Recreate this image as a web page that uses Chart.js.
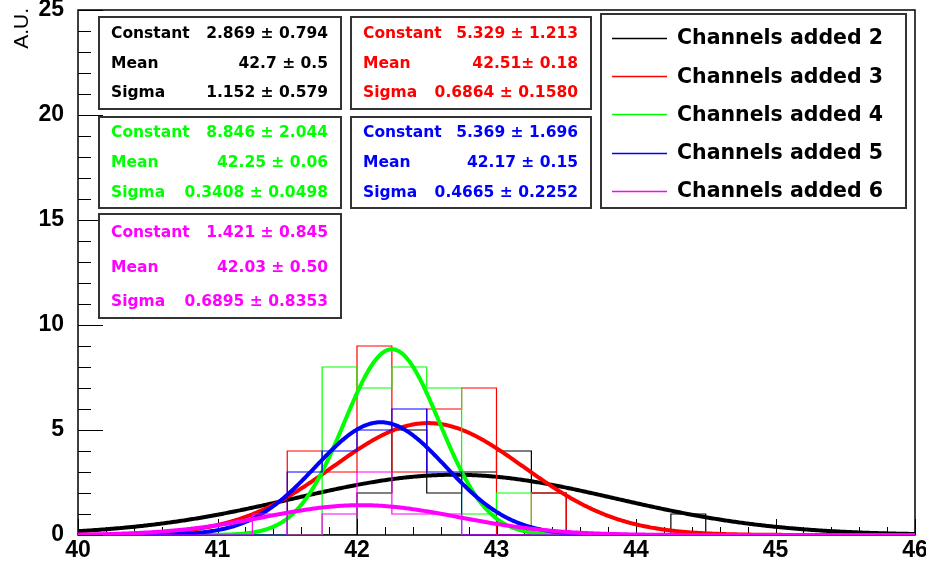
<!DOCTYPE html>
<html>
<head>
<meta charset="utf-8">
<script src="https://cdn.jsdelivr.net/npm/chart.js@4.4.1/dist/chart.umd.min.js"></script>
<style>
  html, body { margin: 0; padding: 0; background: #fff; }
  #wrap { width: 926px; height: 562px; }
</style>
</head>
<body>
<div id="wrap"><canvas id="c" width="926" height="562"></canvas></div>
<script>
// ---- data ----
const binLowEdges = [40.00, 40.25, 40.50, 40.75, 41.00, 41.25, 41.50, 41.75, 42.00, 42.25, 42.50, 42.75,
                     43.00, 43.25, 43.50, 43.75, 44.00, 44.25, 44.50, 44.75, 45.00, 45.25, 45.50, 45.75];
const xUpperEdge = 46;
const seriesNames = ['Channels added 2', 'Channels added 3', 'Channels added 4', 'Channels added 5', 'Channels added 6'];
const counts2 = [0,0,0,0,0,0,0,0,2,5,2,3,4,2,0,0,0,1,0,0,0,0,0,0];
const counts3 = [0,0,0,0,0,0,4,3,9,3,6,7,0,2,0,0,0,0,0,0,0,0,0,0];
const counts4 = [0,0,0,0,0,0,0,8,7,8,7,1,2,0,0,0,0,0,0,0,0,0,0,0];
const counts5 = [0,0,0,0,0,0,3,4,5,6,3,0,0,0,0,0,0,0,0,0,0,0,0,0];
const counts6 = [0,0,0,0,0,1,0,1,3,1,1,0,0,0,0,0,0,0,0,0,0,0,0,0];
const fitConstant = [2.869, 5.329, 8.846, 5.369, 1.421];
const fitMean     = [42.7, 42.51, 42.25, 42.17, 42.03];
const fitSigma    = [1.152, 0.6864, 0.3408, 0.4665, 0.6895];
const statLabels  = ['Constant', 'Mean', 'Sigma'];
const statConstantText = ['2.869 \u00b1 0.794', '5.329 \u00b1 1.213', '8.846 \u00b1 2.044', '5.369 \u00b1 1.696', '1.421 \u00b1 0.845'];
const statMeanText     = ['42.7 \u00b1 0.5', '42.51\u00b1 0.18', '42.25 \u00b1 0.06', '42.17 \u00b1 0.15', '42.03 \u00b1 0.50'];
const statSigmaText    = ['1.152 \u00b1 0.579', '0.6864 \u00b1 0.1580', '0.3408 \u00b1 0.0498', '0.4665 \u00b1 0.2252', '0.6895 \u00b1 0.8353'];
const xTickValues = [40, 41, 42, 43, 44, 45, 46];
const yTickValues = [0, 5, 10, 15, 20, 25];
const yTitle = 'A.U.';

// ---- styles ----
const colors = ['#000000', '#ff0000', '#00ff00', '#0000ff', '#ff00ff'];
const allCounts = [counts2, counts3, counts4, counts5, counts6];

function histPoints(c) {
  const pts = binLowEdges.map((x, i) => ({ x: x, y: c[i] }));
  pts.push({ x: xUpperEdge, y: c[c.length - 1] });
  return pts;
}
function fitPoints(k) {
  const pts = [];
  const n = 600;
  for (let i = 0; i <= n; i++) {
    const x = binLowEdges[0] + (xUpperEdge - binLowEdges[0]) * i / n;
    const d = (x - fitMean[k]) / fitSigma[k];
    pts.push({ x: x, y: fitConstant[k] * Math.exp(-0.5 * d * d) });
  }
  return pts;
}

const datasets = [];
let drawIdx = 0;
for (let k = 0; k < 5; k++) {
  datasets.push({
    label: seriesNames[k] + ' hist',
    data: histPoints(allCounts[k]),
    borderColor: colors[k],
    borderWidth: 1.2,
    stepped: true,
    pointRadius: 0,
    fill: false,
    order: 100 - (drawIdx++)
  });
  datasets.push({
    label: seriesNames[k] + ' fit',
    data: fitPoints(k),
    borderColor: colors[k],
    borderWidth: 4,
    pointRadius: 0,
    tension: 0,
    fill: false,
    order: 100 - (drawIdx++)
  });
}

const frameAndTicks = {
  id: 'frameAndTicks',
  beforeDatasetsDraw(chart) {
    const { ctx, chartArea: a, scales: { x, y } } = chart;
    ctx.save();
    ctx.strokeStyle = '#000';
    ctx.lineWidth = 1;
    ctx.beginPath();
    for (let v = 0; v <= 25; v++) {
      const py = Math.round(y.getPixelForValue(v)) + 0.5;
      const len = (v % 5 === 0) ? 25 : 13;
      ctx.moveTo(a.left, py); ctx.lineTo(a.left + len, py);
    }
    for (let i = 0; i <= 30; i++) {
      const v = 40 + i * 0.2;
      const px = Math.round(x.getPixelForValue(v)) + 0.5;
      const len = (i % 5 === 0) ? 16 : 8;
      ctx.moveTo(px, a.bottom); ctx.lineTo(px, a.bottom - len);
    }
    ctx.stroke();
    ctx.lineWidth = 1.5;
    ctx.strokeRect(a.left, a.top, a.right - a.left, a.bottom - a.top);
    ctx.restore();
  },
  afterDraw(chart) {
    const ctx = chart.ctx;
    ctx.save();
    ctx.translate(22, 8);
    ctx.rotate(-Math.PI / 2);
    ctx.font = '21px "Liberation Sans", Arial, sans-serif';
    ctx.fillStyle = '#000';
    ctx.textAlign = 'right';
    ctx.textBaseline = 'middle';
    ctx.fillText(yTitle, 0, 0);
    ctx.restore();

    const boxes = [
      { x: 99,  y: 17,  w: 242, h: 92,  r0: 17, dr: 29.5 },
      { x: 351, y: 17,  w: 240, h: 92,  r0: 17, dr: 29.5 },
      { x: 99,  y: 117, w: 242, h: 91,  r0: 16, dr: 30 },
      { x: 351, y: 117, w: 240, h: 91,  r0: 16, dr: 30 },
      { x: 99,  y: 214, w: 242, h: 104, r0: 19, dr: 34.5 }
    ];
    ctx.save();
    for (let k = 0; k < 5; k++) {
      const b = boxes[k];
      ctx.fillStyle = '#fff';
      ctx.fillRect(b.x, b.y, b.w, b.h);
      ctx.strokeStyle = '#333';
      ctx.lineWidth = 2;
      ctx.strokeRect(b.x, b.y, b.w, b.h);
      ctx.fillStyle = colors[k];
      ctx.font = 'bold 15.5px "DejaVu Sans", sans-serif';
      ctx.textBaseline = 'middle';
      const vals = [statConstantText[k], statMeanText[k], statSigmaText[k]];
      for (let r = 0; r < 3; r++) {
        const ty = b.y + b.r0 + r * b.dr;
        ctx.textAlign = 'left';
        ctx.fillText(statLabels[r], b.x + 12, ty);
        ctx.textAlign = 'right';
        ctx.fillText(vals[r], b.x + b.w - 13, ty);
      }
    }
    const L = { x: 601, y: 14, w: 305, h: 194 };
    ctx.fillStyle = '#fff';
    ctx.fillRect(L.x, L.y, L.w, L.h);
    ctx.strokeStyle = '#333';
    ctx.lineWidth = 2;
    ctx.strokeRect(L.x, L.y, L.w, L.h);
    ctx.font = 'bold 20.5px "DejaVu Sans", sans-serif';
    ctx.textAlign = 'left';
    ctx.textBaseline = 'middle';
    for (let k = 0; k < 5; k++) {
      const ry = L.y + 24 + k * 38.2;
      ctx.strokeStyle = colors[k];
      ctx.lineWidth = 1.5;
      ctx.beginPath();
      ctx.moveTo(612, Math.round(ry) + 0.5);
      ctx.lineTo(667, Math.round(ry) + 0.5);
      ctx.stroke();
      ctx.fillStyle = '#000';
      ctx.fillText(seriesNames[k], 677, ry + 1);
    }
    ctx.restore();
  }
};

new Chart(document.getElementById('c'), {
  type: 'line',
  data: { datasets: datasets },
  options: {
    responsive: false,
    animation: false,
    devicePixelRatio: 1,
    layout: { padding: { top: 10, right: 11, left: 0, bottom: 0 } },
    plugins: { legend: { display: false }, tooltip: { enabled: false } },
    scales: {
      x: {
        type: 'linear', min: 40, max: 46,
        afterBuildTicks: s => { s.ticks = xTickValues.map(v => ({ value: v })); },
        afterFit: s => { s.height = 27; s.paddingLeft = 0; s.paddingRight = 0; },
        grid: { display: false },
        border: { display: false },
        ticks: {
          autoSkip: false, maxRotation: 0, minRotation: 0, padding: -4,
          color: '#000',
          font: { family: '"Liberation Sans", Arial, sans-serif', size: 23, weight: 'bold', lineHeight: 1 }
        }
      },
      y: {
        type: 'linear', min: 0, max: 25,
        afterBuildTicks: s => { s.ticks = yTickValues.map(v => ({ value: v })); },
        afterFit: s => { s.width = 78; s.paddingTop = 0; s.paddingBottom = 0; },
        grid: { display: false },
        border: { display: false },
        ticks: {
          padding: 6,
          color: '#000',
          font: { family: '"Liberation Sans", Arial, sans-serif', size: 23, weight: 'bold', lineHeight: 1 }
        }
      }
    }
  },
  plugins: [frameAndTicks]
});
</script>
</body>
</html>
